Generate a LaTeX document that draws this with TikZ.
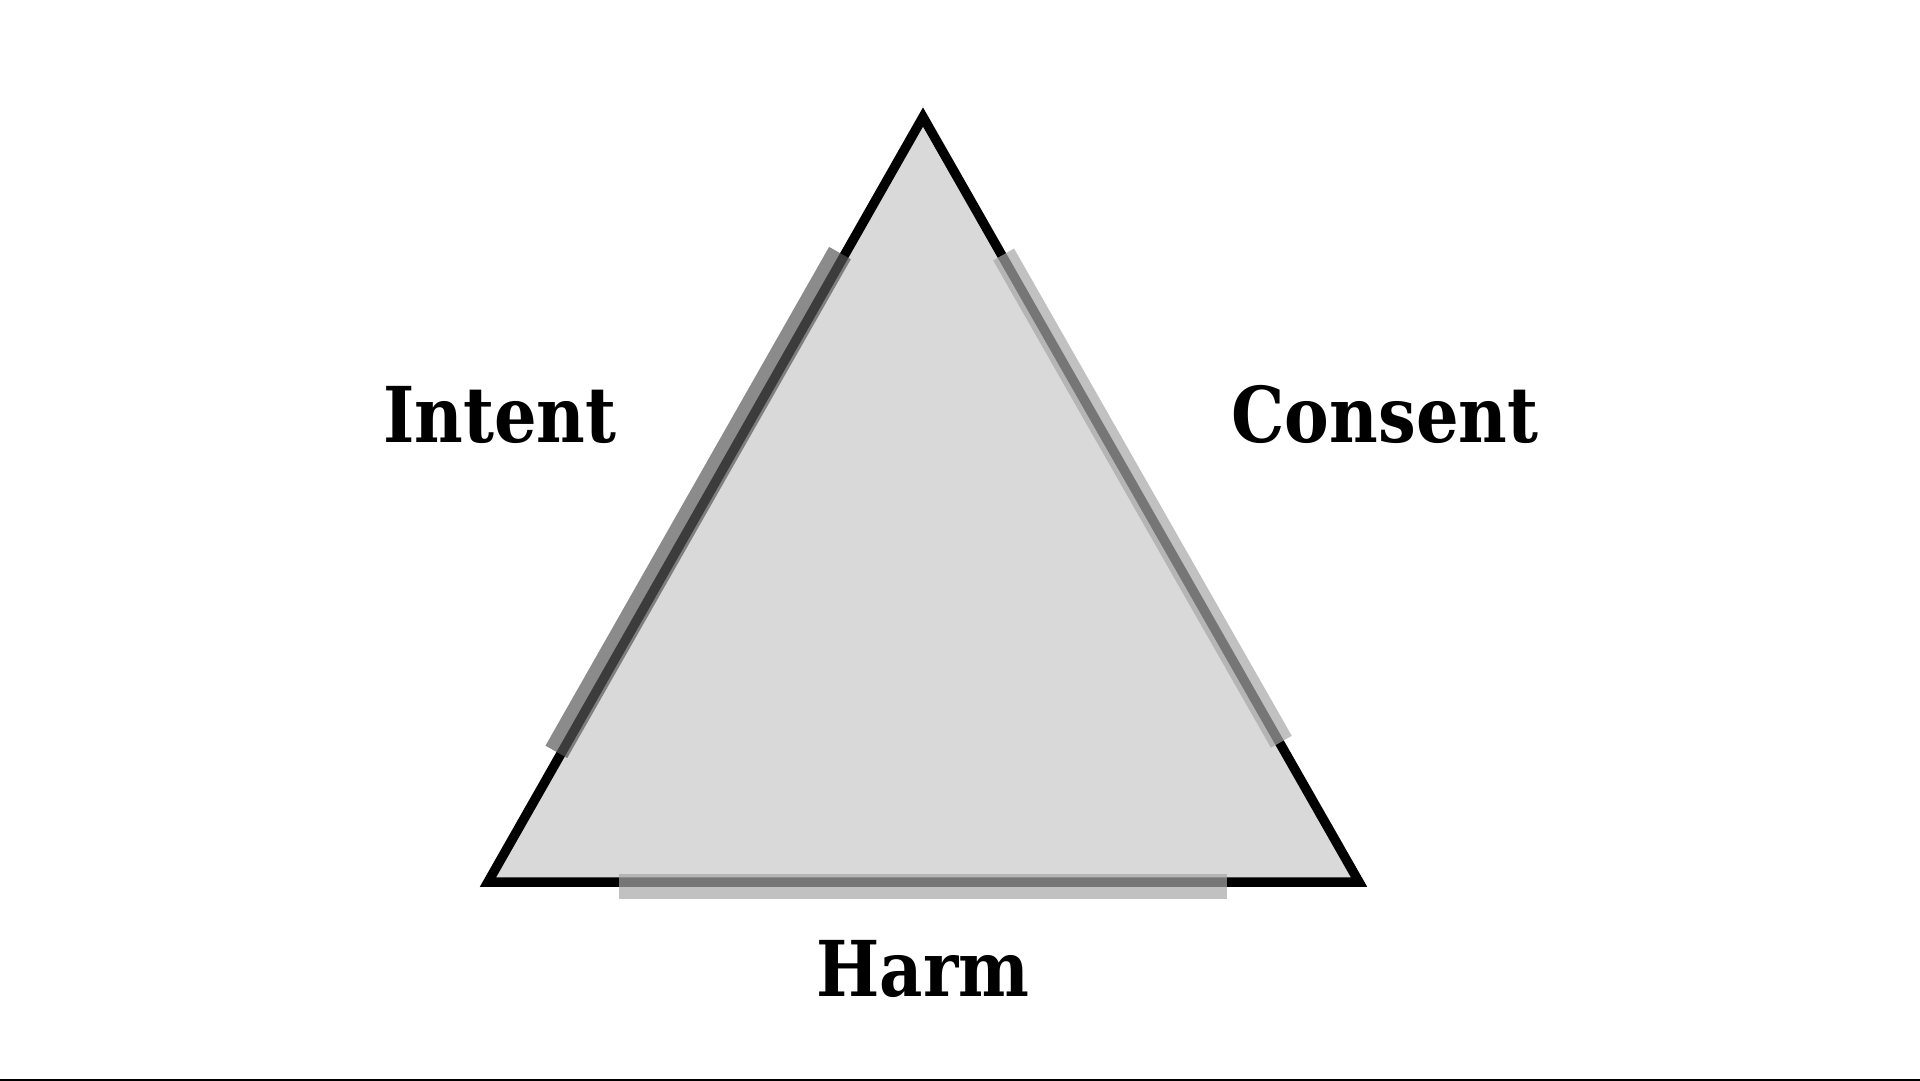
\documentclass[tikz,border=0pt]{standalone}
\usepackage{fontspec}
\setmainfont{DejaVu Serif}
\usetikzlibrary{calc}
\definecolor{trifill}{gray}{0.85}
\definecolor{darkband}{gray}{0.34}
\definecolor{lightband}{gray}{0.655}

\begin{document}
\begin{tikzpicture}[x=1pt, y=-1pt,
    lbl/.style={font=\bfseries\fontsize{77}{80}\selectfont, anchor=base, inner sep=0pt, xscale=0.87},
    darkstrip/.style={line width=25pt, draw=darkband, opacity=0.69},
    lightstrip/.style={line width=24pt, draw=lightband, opacity=0.71}]
    \useasboundingbox (0,0) rectangle (1920,1081);

    %Triangle
    \coordinate (apex) at (923, 117);
    \coordinate (bl) at (488, 882);
    \coordinate (br) at (1359, 882);
    \filldraw[fill=trifill, line width=9.5pt] (apex) -- (bl) -- (br) -- cycle;

    % strips along the sides
    \coordinate (i1) at ($(apex)!0.181!(bl) + (-4.3,-2.4)$);
    \coordinate (i2) at ($(apex)!0.833!(bl) + (-4.3,-2.4)$);
    \coordinate (c1) at ($(apex)!0.181!(br) + (1.7,-1)$);
    \coordinate (c2) at ($(apex)!0.818!(br) + (1.7,-1)$);
    \coordinate (h1) at ($(bl)!0.150!(br) + (0,4)$);
    \coordinate (h2) at ($(bl)!0.849!(br) + (0,4)$);

    \draw[darkstrip] (i1) -- (i2);
    \draw[lightstrip] (c1) -- (c2);
    \draw[lightstrip, line width=25pt] (h1) -- (h2);

    %Labels
    \node at (500, 442) [lbl] (intent) {Intent};
    \node at (1385, 442) [lbl] (consent) {Consent};
    \node at (923, 996) [lbl] (harm) {Harm};

    \draw[line width=2pt] (0,1080) -- (1920,1080);
\end{tikzpicture}
\end{document}
